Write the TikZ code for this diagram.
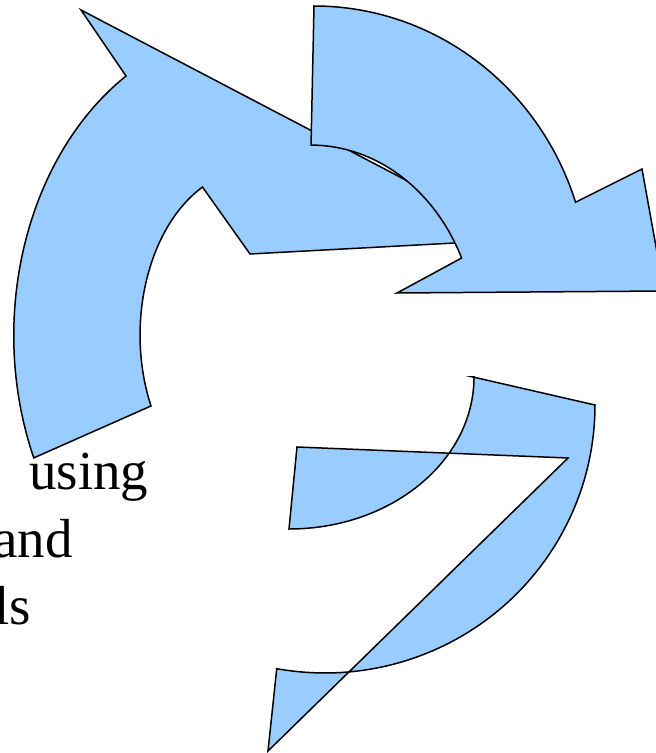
\documentclass[tikz,border=0pt]{standalone}
\usepackage{fontspec}
\setmainfont{Liberation Serif}
\usepackage{tikz}
\usetikzlibrary{calc}
\definecolor{arrowblue}{RGB}{153,204,255}

\begin{document}
\begin{tikzpicture}[x=1pt,y=1pt,
		arrowshape/.style={fill=arrowblue,draw=black,line width=1.5pt,line join=miter},
		lbl/.style={inner sep=0pt,font=\fontsize{55}{66}\selectfont}]
	\useasboundingbox (0,0) rectangle (656,753);
	\clip (0,0) rectangle (656,753);
	% left arrow
	\draw[arrowshape] (81,743) -- (126,677)
		arc[start angle=122.3,end angle=203.5,x radius=241,y radius=307]
		-- (151,347)
		arc[start angle=205.3,end angle=116.9,x radius=114,y radius=166]
		-- (250,499) -- (455,510) -- (470,523) -- (440,555) -- cycle;
	% top arrow
	\draw[arrowshape] (314,747)
		arc[start angle=90,end angle=18,x radius=275,y radius=284]
		-- (642,584) -- (664,462) -- (397,460) -- (461.6,495)
		arc[start angle=24.9,end angle=90,x radius=166,y radius=195]
		-- cycle;
	% bottom arrow
	\draw[arrowshape] (473,376) -- (595,348)
		arc[start angle=0,end angle=-100.3,x radius=270,y radius=268]
		-- (268,2) -- (568,295) -- (297,306) -- (289,224)
		arc[start angle=-90,end angle=0,x radius=185,y radius=152]
		-- cycle;
	\node[lbl,anchor=base west] (using) at (29,263) {using};
	\node[lbl,anchor=base east] (and) at (73,195) {and};
	\node[lbl,anchor=base east] (ls) at (31,128) {ls};
\end{tikzpicture}
\end{document}
